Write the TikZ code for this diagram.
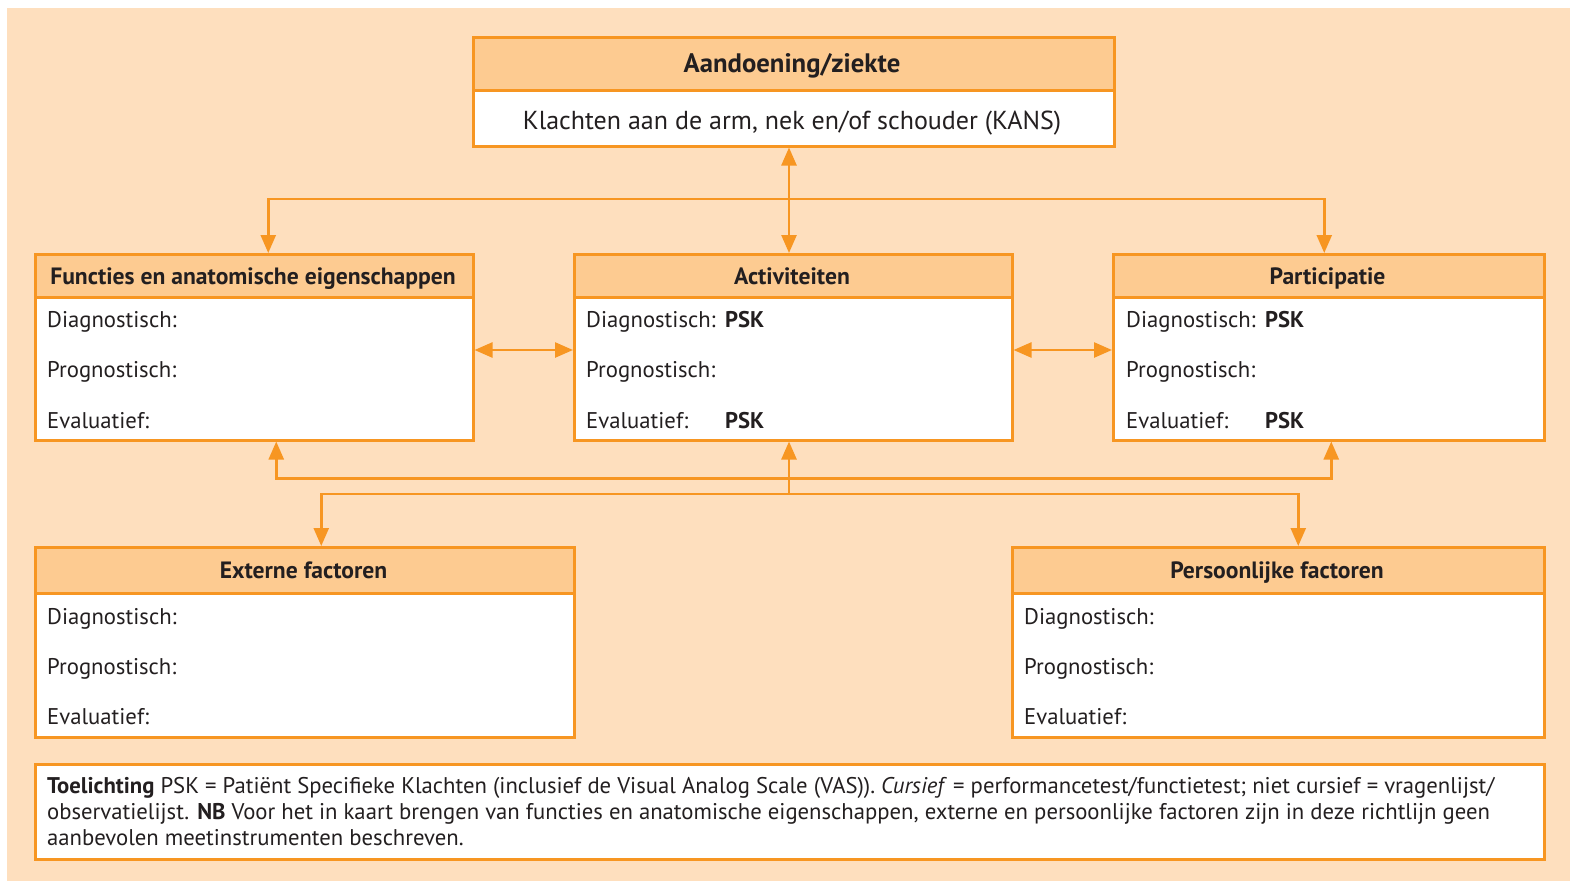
\documentclass[tikz,border=0pt]{standalone}
\usepackage{fontspec}
\setmainfont{PT Sans}
\usetikzlibrary{arrows.meta}
\definecolor{peach}{RGB}{254,223,190}
\definecolor{hdrfill}{RGB}{253,203,145}
\definecolor{org}{RGB}{247,150,34}
\definecolor{ink}{RGB}{35,31,32}
\tikzset{
  hdr/.style={draw=org, line width=2.5pt, fill=hdrfill, inner sep=0pt, anchor=north west},
  bdy/.style={draw=org, line width=2.5pt, fill=white, inner sep=0pt, anchor=north west},
  htxt/.style={anchor=base, inner sep=0pt, text=ink, font=\bfseries\fontsize{23.6}{27}\selectfont},
  lbl/.style={anchor=base west, inner sep=0pt, text=ink, font=\fontsize{22.7}{27}\selectfont},
  psk/.style={anchor=base west, inner sep=0pt, text=ink, font=\bfseries\fontsize{22.7}{27}\selectfont},
  note/.style={anchor=base west, inner sep=0pt, text=ink, font=\fontsize{22.7}{26}\selectfont},
  conn/.style={draw=org, line width=2.5pt},
  tip/.tip={Triangle[length=18pt,width=15pt]},
}
\begin{document}
\begin{tikzpicture}[x=1pt,y=-1pt]
\useasboundingbox (0,0) rectangle (1570,881);
\fill[peach] (7,8) rectangle (1570,881);

% top box
\node[hdr, minimum width=641, minimum height=53] (th) at (472,36) {};
\node[bdy, minimum width=641, minimum height=56] (tb) at (472,89) {};
\node[htxt, font=\bfseries\fontsize{26.7}{30}\selectfont] (tht) at (792,72) {Aandoening/ziekte};
\node[anchor=base, inner sep=0pt, text=ink, font=\fontsize{26}{30}\selectfont] (tbt) at (792,129) {Klachten aan de arm, nek en/of schouder (KANS)};

% Functies
\node[hdr, minimum width=438, minimum height=43] (fh) at (34,253) {};
\node[bdy, minimum width=438, minimum height=143] (fb) at (34,296) {};
\node[htxt] (fht) at (253,284) {Functies en anatomische eigenschappen};
\node[lbl] (f1) at (47,327) {Diagnostisch:};
\node[lbl] (f2) at (47,377) {Prognostisch:};
\node[lbl] (f3) at (47,428) {Evaluatief:};

% Activiteiten
\node[hdr, minimum width=438, minimum height=43] (ah) at (573,253) {};
\node[bdy, minimum width=438, minimum height=143] (ab) at (573,296) {};
\node[htxt] (aht) at (792,284) {Activiteiten};
\node[lbl] (a1) at (586,327) {Diagnostisch:};
\node[lbl] (a2) at (586,377) {Prognostisch:};
\node[lbl] (a3) at (586,428) {Evaluatief:};
\node[psk] (a1v) at (725,327) {PSK};
\node[psk] (a3v) at (725,428) {PSK};

% Participatie
\node[hdr, minimum width=431, minimum height=43] (ph) at (1112,253) {};
\node[bdy, minimum width=431, minimum height=143] (pb) at (1112,296) {};
\node[htxt] (pht) at (1327.5,284) {Participatie};
\node[lbl] (p1) at (1126,327) {Diagnostisch:};
\node[lbl] (p2) at (1126,377) {Prognostisch:};
\node[lbl] (p3) at (1126,428) {Evaluatief:};
\node[psk] (p1v) at (1265,327) {PSK};
\node[psk] (p3v) at (1265,428) {PSK};

% Externe factoren
\node[hdr, minimum width=539, minimum height=46] (eh) at (34,546) {};
\node[bdy, minimum width=539, minimum height=144] (eb) at (34,592) {};
\node[htxt] (eht) at (303.5,578) {Externe factoren};
\node[lbl] (e1) at (47,624) {Diagnostisch:};
\node[lbl] (e2) at (47,674) {Prognostisch:};
\node[lbl] (e3) at (47,724) {Evaluatief:};

% Persoonlijke factoren
\node[hdr, minimum width=532, minimum height=46] (qh) at (1011,546) {};
\node[bdy, minimum width=532, minimum height=144] (qb) at (1011,592) {};
\node[htxt] (qht) at (1277,578) {Persoonlijke factoren};
\node[lbl] (q1) at (1024,624) {Diagnostisch:};
\node[lbl] (q2) at (1024,674) {Prognostisch:};
\node[lbl] (q3) at (1024,724) {Evaluatief:};

% Toelichting
\node[bdy, minimum width=1509, minimum height=95] (nb) at (34,763) {};
\node[note] (n1) at (47,793) {\textbf{Toelichting} PSK = Patiënt Specifieke Klachten (inclusief de Visual Analog Scale (VAS)). \textit{Cursief} = performancetest/functietest; niet cursief = vragenlijst/};
\node[note] (n2) at (47,819) {observatielijst. \textbf{NB} Voor het in kaart brengen van functies en anatomische eigenschappen, externe en persoonlijke factoren zijn in deze richtlijn geen};
\node[note] (n3) at (47,845) {aanbevolen meetinstrumenten beschreven.};

% connectors
\coordinate (vx) at (789,0);
\coordinate (hy) at (0,350);
\draw[conn, tip-tip] (tb.south -| vx) -- (ah.north -| vx);
\draw[conn, tip-tip] ([xshift=14pt]fh.north) -- ++(0,-54) -| ([xshift=-4.5pt]ph.north);
\draw[conn, tip-tip] (fb.east |- hy) -- (ab.west |- hy);
\draw[conn, tip-tip] (ab.east |- hy) -- (pb.west |- hy);
\coordinate (j1) at (789,494);
\draw[conn, -tip] (j1) -- (ab.south -| vx);
\draw[conn, tip-tip] ([xshift=22pt]fb.south) -- ++(0,37) -| ([xshift=2.5pt]pb.south);
\draw[conn, tip-tip] ([xshift=16.5pt]eh.north) -- ++(0,-52) -| ([xshift=20pt]qh.north);
\end{tikzpicture}
\end{document}
